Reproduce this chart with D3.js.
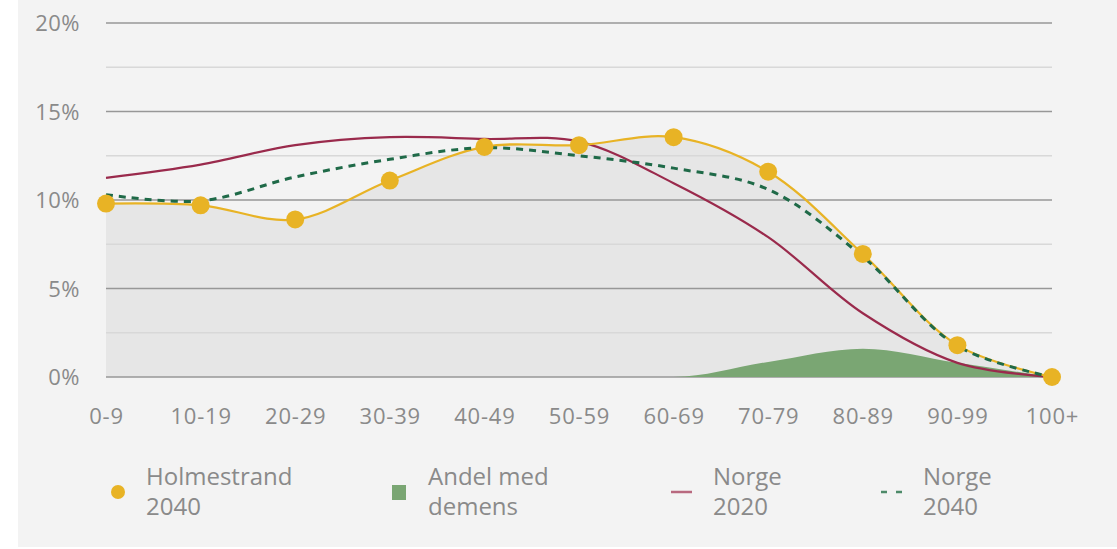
<!DOCTYPE html>
<html><head><meta charset="utf-8">
<script src="https://cdn.jsdelivr.net/npm/d3@7"></script>
<style>
html,body{margin:0;padding:0;background:#fff;}
svg{display:block;}
text{font-family:"Open Sans",Lato,sans-serif;fill:#8a8a8a;}
</style></head><body>
<svg id="c" width="1117" height="549"></svg>
<script>
const categories = ["0-9","10-19","20-29","30-39","40-49","50-59","60-69","70-79","80-89","90-99","100+"];
const holmestrand2040 = [9.8, 9.7, 8.9, 11.1, 13.0, 13.1, 13.55, 11.6, 6.95, 1.8, 0.0];
const norge2020 = [11.25, 12.0, 13.1, 13.55, 13.45, 13.3, 10.95, 7.9, 3.6, 0.8, 0.0];
const norge2040 = [10.3, 9.95, 11.3, 12.3, 12.95, 12.5, 11.8, 10.6, 6.8, 1.75, 0.0];
const andelDemens = [0, 0, 0, 0, 0, 0, 0, 0.85, 1.6, 0.8, 0.0];
const yTicks = [0, 5, 10, 15, 20];
const yMinor = [2.5, 7.5, 12.5, 17.5];
const legendItems = [
  {lines:["Holmestrand","2040"], type:"dot"},
  {lines:["Andel med","demens"], type:"rect"},
  {lines:["Norge","2020"], type:"line"},
  {lines:["Norge","2040"], type:"dash"}
];

const colors = {holm:"#e8b325", red:"#9a2a4c", dash:"#1f6a48", green:"#7aa673", area:"#e6e6e6", bg:"#f3f3f3"};

const svg = d3.select("#c");
svg.append("rect").attr("x",18).attr("y",0).attr("width",1099).attr("height",547).attr("fill",colors.bg);

const x = d3.scalePoint().domain(categories).range([106, 1052]);
const y = d3.scaleLinear().domain([0, 20]).range([377, 23]);

const data = (arr) => arr.map((v,i)=>({c:categories[i], v}));

// grey area under Holmestrand
svg.append("path").datum(data(holmestrand2040))
  .attr("fill", colors.area)
  .attr("d", d3.area().x(d=>x(d.c)).y0(y(0)).y1(d=>y(d.v)).curve(d3.curveCatmullRom.alpha(0.5)));

// gridlines
svg.append("g").selectAll("line").data(yMinor).join("line")
  .attr("x1",106).attr("x2",1052).attr("y1",d=>y(d)).attr("y2",d=>y(d))
  .attr("stroke","#d8d8d8").attr("stroke-width",1.5);
svg.append("g").selectAll("line").data(yTicks).join("line")
  .attr("x1",106).attr("x2",1052).attr("y1",d=>y(d)).attr("y2",d=>y(d))
  .attr("stroke","#979797").attr("stroke-width",1.6);

// y-axis labels
const yAxis = d3.axisLeft(y).tickValues(yTicks).tickFormat(d=>d+"%").tickSize(0).tickPadding(0);
const ya = svg.append("g").attr("transform","translate(80,0)").call(yAxis);
ya.select(".domain").remove();
ya.selectAll("text").attr("font-size",22).attr("fill","#8a8a8a").attr("font-family","'Open Sans',sans-serif").attr("letter-spacing","0.5px").attr("dy","0.35em");

// x-axis labels
const xAxis = d3.axisBottom(x).tickSize(0).tickPadding(0);
const xa = svg.append("g").attr("transform","translate(0,416)").call(xAxis);
xa.select(".domain").remove();
xa.selectAll("text").attr("font-size",22).attr("fill","#8a8a8a").attr("font-family","'Open Sans',sans-serif").attr("letter-spacing","0.8px").attr("dy","0.35em");

// green area
svg.append("path").datum(data(andelDemens))
  .attr("fill", colors.green)
  .attr("d", d3.area().x(d=>x(d.c)).y0(y(0)).y1(d=>y(d.v)).curve(d3.curveMonotoneX));

const line = d3.line().x(d=>x(d.c)).y(d=>y(d.v)).curve(d3.curveCatmullRom.alpha(0.5));

svg.append("path").datum(data(norge2020)).attr("fill","none").attr("stroke",colors.red).attr("stroke-width",2.2).attr("d",line);
svg.append("path").datum(data(holmestrand2040)).attr("fill","none").attr("stroke",colors.holm).attr("stroke-width",2.2).attr("d",line);
svg.append("path").datum(data(norge2040)).attr("fill","none").attr("stroke",colors.dash).attr("stroke-width",3).attr("stroke-dasharray","7,6").attr("d",line);

svg.append("g").selectAll("circle").data(data(holmestrand2040)).join("circle")
  .attr("cx",d=>x(d.c)).attr("cy",d=>y(d.v)).attr("r",9).attr("fill",colors.holm);

// legend
const legX = [118, 399, 681, 891];
const txtX = [146, 428, 713, 923];
const lg = svg.append("g");
legendItems.forEach((it,i)=>{
  const g = lg.append("g");
  if(it.type==="dot") g.append("circle").attr("cx",legX[i]).attr("cy",492).attr("r",7).attr("fill",colors.holm);
  if(it.type==="rect") g.append("rect").attr("x",legX[i]-7).attr("y",485).attr("width",14).attr("height",15).attr("fill",colors.green);
  if(it.type==="line") g.append("line").attr("x1",legX[i]-10).attr("x2",legX[i]+11).attr("y1",492).attr("y2",492).attr("stroke","#b8697f").attr("stroke-width",2.5);
  if(it.type==="dash") g.append("line").attr("x1",legX[i]-10).attr("x2",legX[i]+11).attr("y1",492).attr("y2",492).attr("stroke","#4d8a69").attr("stroke-width",2.5).attr("stroke-dasharray","6,9");
  it.lines.forEach((t,j)=>{
    g.append("text").attr("x",txtX[i]).attr("y",477+j*30).attr("dy","0.35em").attr("font-size",24).text(t);
  });
});
</script>
</body></html>
